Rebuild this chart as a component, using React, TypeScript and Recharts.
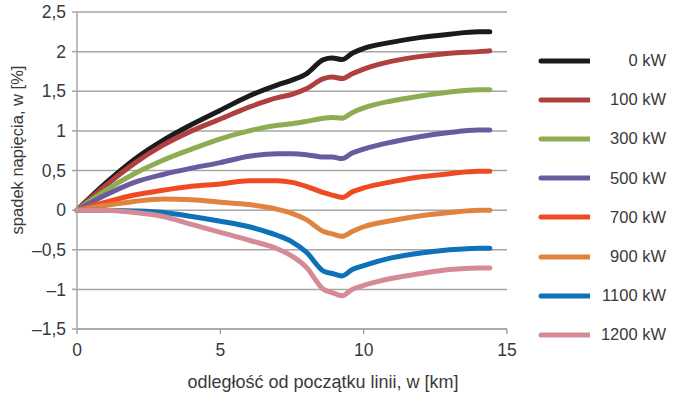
import React from "react";
import { LineChart, Line, XAxis, YAxis, CartesianGrid } from "recharts";

// distance from the start of the line [km]
const distanceKm = [0, 1, 2, 3, 4, 5, 6, 7, 7.5, 8, 8.6, 8.9, 9.25, 9.6, 10, 11, 12, 13, 14, 14.4];

// voltage drop [%] for each load level
const drop0 = [0, 0.34, 0.64, 0.88, 1.08, 1.26, 1.44, 1.58, 1.64, 1.72, 1.9, 1.92, 1.9, 1.98, 2.04, 2.12, 2.18, 2.22, 2.25, 2.25];
const drop100 = [0, 0.31, 0.59, 0.82, 1.0, 1.15, 1.3, 1.42, 1.46, 1.53, 1.66, 1.68, 1.66, 1.72, 1.78, 1.88, 1.94, 1.98, 2.0, 2.01];
const drop300 = [0, 0.25, 0.46, 0.63, 0.77, 0.9, 1.0, 1.07, 1.09, 1.12, 1.16, 1.17, 1.16, 1.23, 1.29, 1.38, 1.44, 1.49, 1.52, 1.52];
const drop500 = [0, 0.19, 0.35, 0.45, 0.53, 0.6, 0.68, 0.71, 0.71, 0.7, 0.67, 0.67, 0.65, 0.72, 0.77, 0.86, 0.93, 0.98, 1.01, 1.01];
const drop700 = [0, 0.1, 0.19, 0.25, 0.3, 0.33, 0.37, 0.37, 0.35, 0.3, 0.22, 0.19, 0.16, 0.23, 0.28, 0.36, 0.42, 0.46, 0.49, 0.49];
const drop900 = [0, 0.06, 0.11, 0.14, 0.13, 0.1, 0.07, 0.01, -0.04, -0.12, -0.27, -0.3, -0.33, -0.27, -0.21, -0.13, -0.07, -0.03, 0, 0];
const drop1100 = [0, 0, -0.01, -0.03, -0.08, -0.14, -0.21, -0.32, -0.4, -0.53, -0.77, -0.8, -0.83, -0.75, -0.7, -0.6, -0.54, -0.5, -0.48, -0.48];
const drop1200 = [0, 0, -0.03, -0.08, -0.18, -0.28, -0.38, -0.49, -0.58, -0.72, -1.0, -1.04, -1.08, -1.0, -0.95, -0.86, -0.8, -0.75, -0.73, -0.73];

const series = [
  { key: "p0", name: "0 kW", color: "#1b1b1b", values: drop0 },
  { key: "p100", name: "100 kW", color: "#b0403f", values: drop100 },
  { key: "p300", name: "300 kW", color: "#8cad50", values: drop300 },
  { key: "p500", name: "500 kW", color: "#6a5b9f", values: drop500 },
  { key: "p700", name: "700 kW", color: "#ef4b23", values: drop700 },
  { key: "p900", name: "900 kW", color: "#e1823f", values: drop900 },
  { key: "p1100", name: "1100 kW", color: "#0f72b9", values: drop1100 },
  { key: "p1200", name: "1200 kW", color: "#d58b95", values: drop1200 },
];

const xTicks = [0, 5, 10, 15];
const yTicks = [-1.5, -1, -0.5, 0, 0.5, 1, 1.5, 2, 2.5];

const rows = distanceKm.map((km, i) => {
  const row: Record<string, number> = { km };
  series.forEach((s) => {
    row[s.key] = s.values[i];
  });
  return row;
});

const FONT = "'Liberation Sans', Arial, sans-serif";
const TEXT = "#3a3a3a";
const GRID = "#a6a6a6";

const fmt = (v: number) => String(v).replace(".", ",").replace("-", "\u2013");

function SideLegend() {
  return (
    <div style={{ position: "absolute", left: 530, top: 41 }}>
      {series.map((s) => (
        <div
          key={s.key}
          style={{ display: "flex", alignItems: "center", height: 39.2, width: 136 }}
        >
          <svg width={60} height={10}>
            <line x1={11} y1={5} x2={61} y2={5} stroke={s.color} strokeWidth={5} strokeLinecap="round" />
          </svg>
          <span style={{ flex: 1, textAlign: "right", fontSize: 16.5, color: TEXT }}>{s.name}</span>
        </div>
      ))}
    </div>
  );
}

export default function App() {
  return (
    <div
      style={{
        position: "absolute",
        left: 0,
        top: 0,
        width: 680,
        height: 395,
        background: "#fff",
        fontFamily: FONT,
      }}
    >
      <LineChart
        width={680}
        height={395}
        data={rows}
        margin={{ top: 12, right: 173, left: 0, bottom: 0 }}
      >
        <CartesianGrid horizontal vertical={false} stroke={GRID} strokeWidth={1.5} />
        <XAxis
          dataKey="km"
          type="number"
          domain={[0, 15]}
          ticks={xTicks}
          height={66}
          stroke={GRID}
          strokeWidth={1.5}
          tickSize={5}
          tickMargin={10}
          tick={{ fontSize: 17.5, fill: TEXT, fontFamily: FONT }}
          label={{
            content: () => (
              <text x={323} y={388} textAnchor="middle" fontSize={18} fill={TEXT} fontFamily={FONT}>
                odległość od początku linii, w [km]
              </text>
            ),
          }}
        />
        <YAxis
          type="number"
          domain={[-1.5, 2.5]}
          ticks={yTicks}
          width={77}
          stroke={GRID}
          strokeWidth={1.5}
          tickSize={5}
          tickMargin={6}
          tickFormatter={fmt}
          tick={{ fontSize: 17.5, fill: TEXT, fontFamily: FONT }}
          label={{
            content: () => (
              <text
                transform="translate(23,150) rotate(-90)"
                textAnchor="middle"
                fontSize={16.5}
                fill={TEXT}
                fontFamily={FONT}
              >
                spadek napięcia, w [%]
              </text>
            ),
          }}
        />
        {series.map((s) => (
          <Line
            key={s.key}
            dataKey={s.key}
            name={s.name}
            type="monotone"
            stroke={s.color}
            strokeWidth={5}
            strokeLinecap="round"
            strokeLinejoin="round"
            dot={false}
            activeDot={false}
            isAnimationActive={false}
          />
        ))}
      </LineChart>
      <SideLegend />
    </div>
  );
}
